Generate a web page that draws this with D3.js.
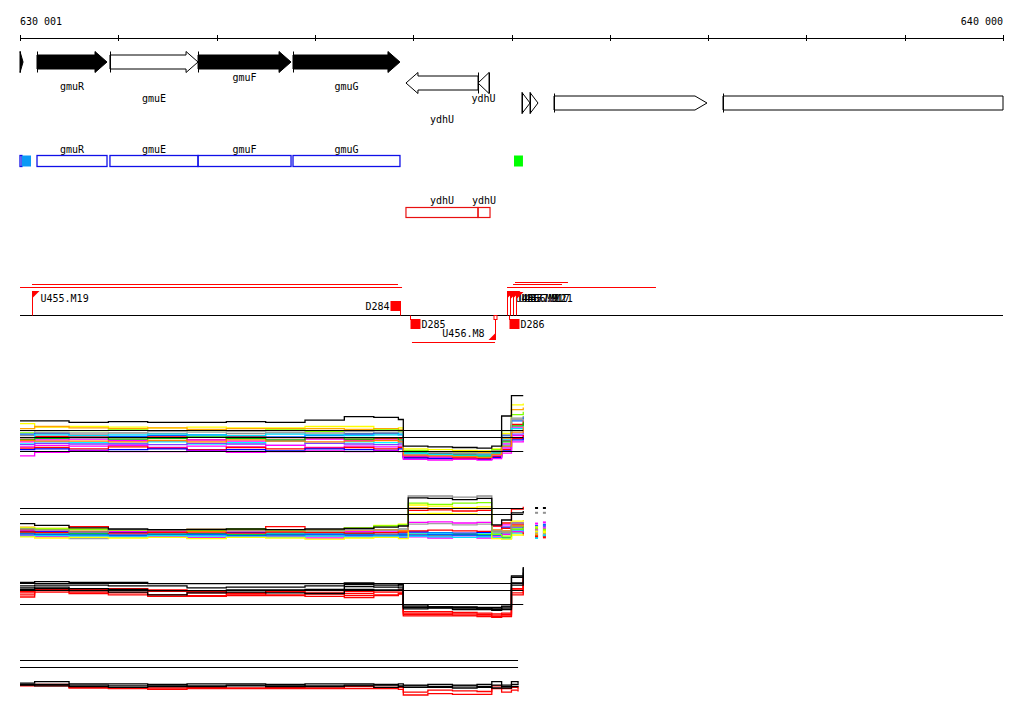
<!DOCTYPE html>
<html><head><meta charset="utf-8">
<script src="https://cdn.jsdelivr.net/npm/d3@7"></script>
<style>body{margin:0;background:#fff} text{font-family:"DejaVu Sans Mono",monospace;font-size:10px;fill:#000}</style>
</head><body><svg id="c" width="1024" height="714"></svg>
<script>
// ---------- data ----------
const axisDomain = [630001, 640000];
const axisTicks = [630001,631001,632001,633001,634001,635001,636001,637001,638001,639001,640000];
const axisLabels = ["630 001", "640 000"];

const geneName   = ["", "gmuR", "gmuE", "gmuF", "gmuG", "ydhU", "ydhU", "", "", "", ""];
const geneStart  = [630001, 630174, 630916, 631812, 632778, 633927, 634660, 635107, 635189, 635433, 637152];
const geneEnd    = [630032, 630886, 631812, 632758, 633866, 634660, 634772, 635189, 635270, 636989, 640000];
const geneStrand = [1, 1, 1, 1, 1, -1, -1, 1, 1, 1, 1];
const geneFilled = [1, 1, 0, 1, 1, 0, 0, 0, 0, 0, 0];
const geneRow    = [0, 0, 0, 0, 0, 1, 1, 2, 2, 2, 2];
const geneHead   = ["wide","wide","wide","wide","wide","wide","wide","wide","wide","narrow","none"];
const geneLabelLevel = [null, 1, 2, 0, 1, 2, 0, null, null, null, null];

const blueName  = ["", "", "gmuR", "gmuE", "gmuF", "gmuG", ""];
const blueStart = [630001, 630021, 630174, 630916, 631812, 632778, 635026];
const blueEnd   = [630021, 630113, 630886, 631812, 632758, 633866, 635117];
const blueFill  = ["none", "#0a9af5", "none", "none", "none", "none", "#00ff00"];

const redName  = ["ydhU", "ydhU"];
const redStart = [633927, 634660];
const redEnd   = [634660, 634782];

const trStart = [630123, 630001, 633988, 635036, 635016, 634955];
const trEnd   = [633846, 633887, 634833, 635575, 635514, 636470];
const trLane  = [1, 2, 3, 0, 1, 2];

const mkName   = ["U455.M19", "D284", "D285", "U456.M8", "U456.M9", "U457.M11", "U456.M17", "U457.M21", "D286"];
const mkPos    = [630123, 633866, 633988, 634833, 634955, 634986, 635016, 635047, 634996];
const mkStrand = [1, 1, -1, -1, 1, 1, 1, 1, -1];
const mkType   = ["flag", "box", "box", "flag", "flag", "flag", "flag", "flag", "box"];

const probePos  = [630001,630150,630500,630900,631300,631700,632100,632500,632900,633300,633600,633850,633900,634150,634400,634650,634800,634900,635000,635120];
const probePos2 = [630001,630150,630500,630900,631300,631700,632100,632500,632900,633300,633600,633850,633950,634150,634400,634650,634800,634900,635000,635120];
const probePos4 = [630001,630150,630500,630900,631300,631700,632100,632500,632900,633300,633600,633850,633900,634150,634400,634650,634800,634900,635000,635067];

const p1Colors = ["#ffff00","#ffa500","#80ff00","#909090","#0060ff","#ff0000","#ff00ff","#00ffff","#00c000","#8040ff","#ff00ff","#ff0000","#0000ff","#ff00ff","#a0a0a0","#00e0ff","#ff8000","#000000"];
const p1Values = [
 [11.9,11.4,11.5,11.4,11.3,11.4,11.3,11.3,11.5,11.5,11.2,11.3,8.3,8.2,8.1,8.0,8.3,10.5,14.6,14.8],
 [11.2,11.5,11.3,11.2,11.3,11.1,11.2,11.2,11.2,11.1,11.2,11.0,8.0,7.9,7.8,7.8,8.1,9.8,13.9,14.2],
 [10.6,10.9,10.9,11.0,10.8,10.9,10.9,11.0,10.8,10.9,11.0,10.8,8.1,7.9,7.7,7.6,8.2,10.9,13.2,13.6],
 [10.2,10.5,10.4,10.6,10.5,10.3,10.5,10.6,10.4,10.5,10.5,10.4,7.8,7.6,7.5,7.4,7.8,9.9,12.7,13.0],
 [10.4,10.6,10.2,10.1,10.2,10.3,10.1,10.0,10.2,10.4,10.6,10.3,7.9,7.7,7.6,7.5,7.9,10.2,12.3,12.8],
 [9.7,10.1,10.0,9.9,10.0,9.6,10.0,9.9,9.8,9.7,9.8,9.8,7.6,7.7,7.5,7.4,7.9,9.5,11.8,12.4],
 [9.3,9.6,9.7,9.5,9.4,9.6,9.4,9.5,9.7,9.5,9.6,9.4,7.4,7.2,7.3,7.2,7.6,9.0,11.4,11.5],
 [9.0,9.3,9.2,9.1,9.3,9.0,9.2,9.4,9.1,9.3,9.2,9.2,7.6,7.5,7.3,7.2,7.5,8.8,10.9,10.6],
 [9.6,9.8,9.9,9.7,9.8,10.0,9.8,9.6,9.9,9.7,9.9,9.6,7.8,7.5,7.4,7.3,7.7,9.3,11.6,12.1],
 [8.9,9.1,9.0,9.0,8.9,9.1,9.0,8.8,9.1,9.0,8.9,9.0,7.3,7.1,7.1,7.0,7.4,8.6,10.4,11.0],
 [8.6,8.8,8.7,8.8,8.5,8.7,8.6,8.8,8.5,8.7,8.6,8.7,7.2,7.0,7.0,6.9,7.3,8.4,10.2,9.7],
 [8.4,8.5,8.3,8.6,8.4,8.2,8.5,8.3,8.4,8.5,8.3,8.5,7.1,6.9,7.0,6.9,7.2,8.2,9.8,10.3],
 [8.2,8.3,8.1,8.2,8.3,8.1,8.2,8.0,8.3,8.2,8.1,8.3,7.0,6.9,6.8,6.8,7.1,8.0,9.6,9.9],
 [7.3,7.8,8.0,7.9,7.9,8.0,7.8,7.9,8.0,7.9,8.0,7.9,6.8,6.7,6.8,6.7,6.9,7.7,9.3,9.5],
 [10.9,10.7,10.6,10.6,10.8,10.7,10.8,10.7,10.6,10.8,10.7,10.7,7.9,7.8,7.7,7.6,8.0,10.3,12.5,12.2],
 [9.9,10.3,10.2,10.3,10.4,10.3,10.2,10.4,10.3,10.2,10.3,10.4,7.7,7.5,7.4,7.4,7.7,9.6,11.2,10.8],
 [9.5,9.4,9.4,9.3,9.5,9.3,9.6,9.4,9.3,9.4,9.5,9.3,7.4,7.3,7.2,7.1,7.5,8.7,10.7,11.4],
 [12.3,12.3,12.1,12.2,12.1,12.1,12.2,12.1,12.4,12.9,12.8,12.5,8.7,8.6,8.5,8.4,8.7,13.0,15.9,15.9]
];
const p1Thresholds = [11, 10, 8];

const p2Colors = ["#ff00ff","#0000ff","#00ffff","#00c000","#8040ff","#a0a0a0","#ff0000","#ff00ff","#0060ff","#00e0ff","#ffff00","#ff0000","#ffa500","#ffff00","#80ff00","#909090","#000000"];
const p2Values = [
 [7.2,7.1,7.0,7.1,7.0,7.2,7.0,7.1,7.0,7.1,7.0,7.1,8.6,8.7,8.5,8.6,8.0,8.2,8.5,7.8],
 [7.1,7.0,6.8,6.9,6.8,6.7,6.9,6.8,6.7,6.8,6.9,6.8,7.0,6.9,6.8,6.9,7.0,7.8,8.0,7.6],
 [6.9,6.8,6.7,6.6,6.7,6.5,6.6,6.8,6.7,6.6,6.5,6.6,6.7,6.8,6.6,6.7,6.8,7.0,6.8,7.2],
 [6.8,6.6,6.7,6.5,6.6,6.7,6.5,6.6,6.5,6.7,6.6,6.5,6.6,6.5,6.6,6.5,6.6,6.0,7.4,7.0],
 [6.6,6.5,6.4,6.5,6.3,6.5,6.4,6.3,6.5,6.4,6.5,6.4,6.5,6.3,6.4,6.3,6.5,7.2,7.7,7.3],
 [6.5,6.3,5.9,6.2,6.3,6.1,6.3,6.2,6.3,6.1,6.2,6.3,8.3,8.4,8.2,8.3,6.9,6.8,6.9,6.6],
 [7.0,6.9,7.1,6.8,6.9,7.0,6.8,7.0,6.9,6.8,6.9,7.0,7.2,7.3,7.2,7.1,7.3,7.6,8.2,6.4],
 [6.4,6.2,6.1,6.3,6.2,6.0,6.2,6.1,6.0,6.3,6.2,6.1,6.2,6.0,6.1,6.0,6.2,6.6,7.1,6.9],
 [6.7,6.6,6.5,6.4,6.5,6.6,6.4,6.5,6.6,6.5,6.4,6.5,6.4,6.6,6.5,6.4,6.5,6.9,7.9,7.5],
 [6.3,6.4,6.3,6.2,6.4,6.3,6.2,6.1,6.3,6.2,6.3,6.2,6.3,6.2,6.1,6.2,6.0,5.9,7.3,7.1],
 [6.2,6.0,6.1,6.0,6.1,5.9,6.1,6.0,5.8,6.0,6.1,5.9,10.0,10.1,10.0,9.9,5.9,5.8,6.5,6.4],
 [7.4,7.5,7.9,7.3,7.2,7.1,7.4,7.9,7.3,7.6,7.4,7.2,10.6,10.7,10.5,10.6,8.0,8.5,10.8,11.2],
 [7.8,7.6,7.4,7.3,7.4,7.5,7.3,7.2,7.4,7.3,7.4,7.2,11.0,10.9,11.0,10.9,7.3,7.2,8.0,8.2],
 [7.7,7.6,7.5,7.3,7.4,7.2,7.3,7.4,7.3,7.6,8.1,8.3,11.5,11.3,11.0,11.2,7.2,7.0,8.8,9.0],
 [7.6,7.5,7.4,7.3,7.4,7.3,7.5,7.3,7.2,7.7,8.0,8.2,11.8,11.6,11.8,11.9,6.6,6.3,7.5,7.8],
 [7.5,7.3,7.0,7.4,7.3,7.5,7.2,7.4,7.3,7.4,7.3,7.5,13.0,13.0,12.8,13.0,7.2,7.0,8.5,8.3],
 [8.4,8.1,7.7,7.5,7.4,7.4,7.5,7.4,7.5,7.6,7.8,8.0,12.7,12.6,12.4,12.6,8.2,9.0,10.2,10.5]
];
const p2TailPos = [635240, 635320];
const p2Tails = [[8.4,8.6],[7.3,7.1],[7.0,6.8],[6.5,6.5],[7.2,7.9],[6.8,6.6],[6.2,6.3],[7.5,7.6],[8.0,8.2],[6.0,6.4],[7.1,7.3],[6.3,6.1],[6.6,6.9],[7.8,7.0],[7.6,7.4],[10.2,10.2],[11.0,11.0]];
const p2Thresholds = [11, 10];

const p3Colors = ["#ff0000","#ff0000","#ff0000","#ff0000","#000000","#000000","#000000","#000000"];
const p3Values = [
 [9.8,10.2,10.1,10.2,10.0,9.8,9.6,9.8,9.9,9.8,9.9,10.0,6.9,6.9,6.8,6.7,6.6,6.7,10.2,12.0],
 [9.6,10.1,9.9,9.9,9.8,9.6,9.5,9.7,9.6,9.5,9.7,9.7,6.7,6.7,6.6,6.5,6.4,6.5,10.0,11.8],
 [9.3,9.9,9.7,9.6,9.3,9.2,9.4,9.3,9.4,9.2,9.3,9.5,6.5,6.5,6.4,6.4,6.2,6.3,9.6,11.5],
 [9.0,9.7,9.5,9.3,9.1,9.1,9.2,9.2,9.1,8.9,9.2,9.4,6.3,6.3,6.3,6.2,6.1,6.2,9.3,11.3],
 [11.1,11.2,11.1,11.1,10.9,10.9,10.9,10.9,10.9,11.0,10.9,10.8,7.9,7.6,7.6,7.5,7.5,7.7,12.0,13.3],
 [10.6,10.7,10.7,10.6,10.6,10.3,10.4,10.4,10.6,10.8,10.7,10.6,7.7,7.6,7.5,7.4,7.3,7.6,11.8,13.1],
 [10.3,10.4,10.2,10.1,9.9,9.9,10.0,10.0,10.1,10.5,10.4,10.3,7.5,7.5,7.4,7.3,7.2,7.4,11.0,12.5],
 [10.1,10.2,9.9,9.7,9.3,9.6,9.7,9.6,9.5,10.1,10.0,10.0,7.3,7.4,7.2,7.2,7.1,7.2,10.7,12.0]
];
const p3Thresholds = [11, 10, 8];

const p4Colors = ["#ff0000","#ff0000","#000000","#000000","#000000"];
const p4Values = [
 [7.4,7.5,7.1,7.0,7.0,7.1,7.0,7.1,7.0,7.2,7.1,7.1,6.4,6.7,6.6,6.5,7.3,6.9,7.1,6.8],
 [7.3,7.3,7.0,6.9,6.8,6.9,6.9,6.9,6.9,6.9,6.9,6.8,6.0,6.2,6.1,6.1,6.9,6.4,6.7,6.5],
 [7.7,7.9,7.6,7.6,7.5,7.6,7.6,7.5,7.6,7.6,7.5,7.6,7.4,7.5,7.4,7.5,7.9,7.4,7.9,7.6],
 [7.5,7.5,7.4,7.3,7.4,7.3,7.4,7.4,7.3,7.4,7.4,7.3,7.3,7.2,7.3,7.2,7.4,7.2,7.5,7.4],
 [7.4,7.3,7.2,7.1,7.2,7.2,7.3,7.2,7.2,7.3,7.1,7.2,7.1,7.1,7.0,7.1,7.0,7.0,7.2,7.1]
];
const p4Thresholds = [11, 10];

// ---------- drawing ----------
const svg = d3.select("#c");
const x = d3.scaleLinear().domain(axisDomain).range([20, 1003]);

// top axis
const axisY = 38;
const ax = svg.append("g").attr("transform", `translate(0,${axisY})`)
  .call(d3.axisBottom(x).tickValues(axisTicks).tickSize(0).tickFormat(""));
ax.select(".domain").attr("stroke", "#000").attr("stroke-width", 1.2);
svg.selectAll(".atick").data(axisTicks).join("line")
  .attr("x1", d => Math.round(x(d)) + 0.5).attr("x2", d => Math.round(x(d)) + 0.5)
  .attr("y1", axisY - 3).attr("y2", axisY + 3).attr("stroke", "#000");
svg.append("text").attr("x", x(axisDomain[0])).attr("y", 25).text(axisLabels[0]);
svg.append("text").attr("x", x(axisDomain[1])).attr("y", 25).attr("text-anchor", "end").text(axisLabels[1]);

// gene arrows
const rowY = [62, 83, 103];
const hb = 7, hh = 10.5, hl = 12;
function arrowPath(x0, x1, cy, strand, head) {
  const w = x1 - x0;
  if (head === "none") return `M${x0},${cy-hb}H${x1}V${cy+hb}H${x0}Z`;
  let pts;
  if (strand > 0) {
    if (head === "narrow") pts = [[x0,cy-hb],[x1-hl,cy-hb],[x1,cy],[x1-hl,cy+hb],[x0,cy+hb]];
    else if (w <= hl) pts = [[x0,cy-hh],[x1,cy],[x0,cy+hh]];
    else pts = [[x0,cy-hb],[x1-hl,cy-hb],[x1-hl,cy-hh],[x1,cy],[x1-hl,cy+hh],[x1-hl,cy+hb],[x0,cy+hb]];
  } else {
    if (w <= hl) pts = [[x1,cy-hh],[x0,cy],[x1,cy+hh]];
    else pts = [[x1,cy-hb],[x0+hl,cy-hb],[x0+hl,cy-hh],[x0,cy],[x0+hl,cy+hh],[x0+hl,cy+hb],[x1,cy+hb]];
  }
  return "M" + pts.map(p => p.join(",")).join("L") + "Z";
}
const genes = geneName.map((n, i) => ({n, s: geneStart[i], e: geneEnd[i], st: geneStrand[i], f: geneFilled[i], r: geneRow[i], h: geneHead[i], l: geneLabelLevel[i]}));
const gG = svg.append("g");
genes.forEach(g => {
  const x0 = x(g.s), x1 = x(g.e), cy = rowY[g.r];
  gG.append("path").attr("d", arrowPath(x0, x1, cy, g.st, g.h))
    .attr("fill", g.f ? "#000" : "#fff").attr("stroke", "#000").attr("stroke-width", 1);
  const tx = Math.round(g.st > 0 ? x0 : x1) + 0.5;
  const th = g.h === "wide" ? hh : hb + 2.5;
  gG.append("line").attr("x1", tx).attr("x2", tx).attr("y1", cy - th).attr("y2", cy + th).attr("stroke", "#000");
  if (g.n) {
    const ly = cy + [15, 24, 36][g.l];
    gG.append("text").attr("x", (x0 + x1) / 2).attr("y", ly).attr("dy", "0.35em").attr("text-anchor", "middle").text(g.n);
  }
});

// blue boxes
const bY = 155.5, bH = 11;
blueName.forEach((n, i) => {
  const x0 = x(blueStart[i]), x1 = x(blueEnd[i]);
  svg.append("rect").attr("x", x0).attr("y", bY).attr("width", x1 - x0).attr("height", bH)
    .attr("fill", blueFill[i] === "none" ? "none" : blueFill[i])
    .attr("stroke", blueFill[i] === "none" ? "#1010e8" : "none").attr("stroke-width", 1.3);
  if (n) svg.append("text").attr("x", (x0 + x1) / 2).attr("y", 149).attr("dy", "0.35em").attr("text-anchor", "middle").text(n);
});

// red boxes
redName.forEach((n, i) => {
  const x0 = x(redStart[i]), x1 = x(redEnd[i]);
  svg.append("rect").attr("x", x0).attr("y", 207.5).attr("width", x1 - x0).attr("height", 10)
    .attr("fill", "none").attr("stroke", "#e81010").attr("stroke-width", 1.2);
  svg.append("text").attr("x", (x0 + x1) / 2).attr("y", 200).attr("dy", "0.35em").attr("text-anchor", "middle").text(n);
});

// transcripts & markers
const baseY = 315.5;
svg.append("line").attr("x1", x(axisDomain[0])).attr("x2", x(axisDomain[1])).attr("y1", baseY).attr("y2", baseY).attr("stroke", "#000").attr("stroke-width", 1.2);
const laneY = [282.5, 284.5, 287.5, 342.5];
trStart.forEach((s, i) => {
  svg.append("line").attr("x1", x(s)).attr("x2", x(trEnd[i])).attr("y1", laneY[trLane[i]]).attr("y2", laneY[trLane[i]]).attr("stroke", "#ff0000").attr("stroke-width", 1.2);
});
const red = "#ff0000";
mkName.forEach((n, i) => {
  const px = Math.round(x(mkPos[i])) + 0.5, st = mkStrand[i];
  if (mkType[i] === "flag") {
    if (st > 0) {
      const top = 291 + (i % 2) * 1;
      svg.append("line").attr("x1", px).attr("x2", px).attr("y1", baseY).attr("y2", top).attr("stroke", red);
      svg.append("path").attr("d", `M${px},${top}L${px+7},${top}L${px},${top+7}Z`).attr("fill", red);
      svg.append("text").attr("x", px + 8).attr("y", 298).attr("dy", "0.35em").text(n);
    } else {
      const bot = 340;
      svg.append("line").attr("x1", px).attr("x2", px).attr("y1", baseY).attr("y2", bot).attr("stroke", red);
      svg.append("rect").attr("x", px - 1.5).attr("y", baseY).attr("width", 3).attr("height", 4).attr("fill", "#fff").attr("stroke", red);
      svg.append("path").attr("d", `M${px},${bot}L${px-7},${bot}L${px},${bot-7}Z`).attr("fill", red);
      svg.append("text").attr("x", px - 11).attr("y", 333).attr("dy", "0.35em").attr("text-anchor", "end").text(n);
    }
  } else {
    if (st > 0) {
      svg.append("rect").attr("x", px - 10).attr("y", 301).attr("width", 10).attr("height", 10).attr("fill", red);
      svg.append("line").attr("x1", px).attr("x2", px).attr("y1", 301).attr("y2", baseY).attr("stroke", red);
      svg.append("text").attr("x", px - 11).attr("y", 306).attr("dy", "0.35em").attr("text-anchor", "end").text(n);
    } else {
      svg.append("line").attr("x1", px - 2).attr("x2", px - 2).attr("y1", baseY).attr("y2", 320).attr("stroke", red);
      svg.append("rect").attr("x", px - 2).attr("y", 319).attr("width", 10).attr("height", 10).attr("fill", red);
      svg.append("text").attr("x", px + 9).attr("y", 324).attr("dy", "0.35em").text(n);
    }
  }
});

// expression panels
function panel(pos, colors, values, thresholds, yDom, yRange, tails) {
  const y = d3.scaleLinear().domain(yDom).range(yRange);
  const g = svg.append("g");
  const line = d3.line().x(d => x(d[0])).y(d => y(d[1])).curve(d3.curveStepAfter);
  values.forEach((vals, i) => {
    g.append("path").attr("d", line(vals.map((v, j) => [pos[j], v])))
      .attr("fill", "none").attr("stroke", colors[i]).attr("stroke-width", 1.3);
  });
  thresholds.forEach(t => {
    g.append("line").attr("x1", x(pos[0])).attr("x2", x(pos[pos.length - 1]))
      .attr("y1", Math.round(y(t)) + 0.5).attr("y2", Math.round(y(t)) + 0.5)
      .attr("stroke", "#000").attr("stroke-width", 1.2);
  });
  if (tails) {
    tails.forEach((tv, i) => tv.forEach((v, j) => {
      const tx = x(p2TailPos[j]);
      g.append("line").attr("x1", tx).attr("x2", tx + 3).attr("y1", y(v)).attr("y2", y(v))
        .attr("stroke", colors[i]).attr("stroke-width", 2);
    }));
  }
}
panel(probePos, p1Colors, p1Values, p1Thresholds, [6, 16], [465, 395]);
panel(probePos2, p2Colors, p2Values, p2Thresholds, [4, 14], [550, 490], p2Tails);
panel(probePos, p3Colors, p3Values, p3Thresholds, [6, 16], [618, 548]);
panel(probePos4, p4Colors, p4Values, p4Thresholds, [6, 16], [695, 625]);
</script></body></html>
